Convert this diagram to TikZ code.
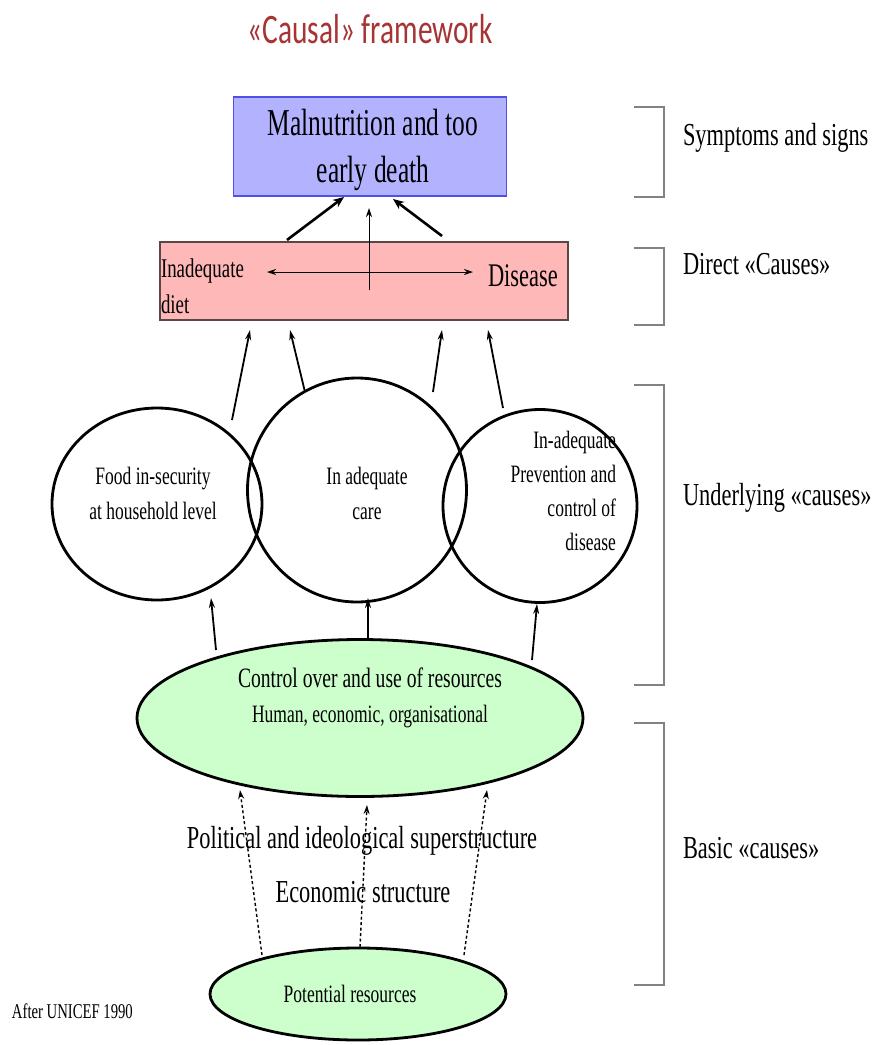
\documentclass[tikz,border=0pt]{standalone}
\usepackage{fontspec}
\setmainfont{Liberation Serif}[FakeStretch=0.7]
\newfontfamily\titlefont{Carlito}[FakeStretch=0.7]
\usetikzlibrary{shapes.geometric,arrows.meta}
\definecolor{titlered}{RGB}{166,52,52}
\definecolor{bluefill}{RGB}{178,178,255}
\definecolor{blueline}{RGB}{80,80,230}
\definecolor{pinkfill}{RGB}{255,184,184}
\definecolor{pinkline}{RGB}{90,70,70}
\definecolor{greenfill}{RGB}{204,255,204}
\definecolor{brackgray}{RGB}{130,130,130}
\newcommand\fsz[2]{\fontsize{#1}{#2}\selectfont}
\tikzset{
  txt/.style={inner sep=0pt, outer sep=0pt},
  ell/.style={draw, ellipse, line width=2.8pt, inner sep=0pt},
  thin arrow/.style={line width=1.8pt, -{Stealth[length=10pt,width=6pt]}},
  hair arrow/.style={line width=1pt, -{Stealth[length=9pt,width=6pt]}},
  bold arrow/.style={line width=2.6pt, -{Stealth[length=11pt,width=9pt]}},
  dash arrow/.style={line width=1.4pt, dash pattern=on 3pt off 2.5pt, -{Stealth[length=9pt,width=6pt]}},
  brack/.style={draw=brackgray, line width=1.8pt},
  blabel/.style={txt, anchor=base west, font=\fsz{32}{36}},
}
\begin{document}
\begin{tikzpicture}[x=1pt,y=-1pt]
\useasboundingbox (0,0) rectangle (878,1045);
% title
\node[txt, anchor=base, text=titlered, font=\titlefont\fsz{42}{46}] (title) at (370,43) {«Causal» framework};
% top box
\node[draw=blueline, fill=bluefill, line width=1.4pt, minimum width=273pt, minimum height=99pt, inner sep=0pt] (mal) at (370,146.5) {};
\node[txt, anchor=base, font=\fsz{38}{47}\addfontfeatures{FakeStretch=0.67}] (mal1) at (373,135) {Malnutrition and too};
\node[txt, anchor=base, font=\fsz{38}{47}\addfontfeatures{FakeStretch=0.67}] (mal2) at (373,182) {early death};
% pink box
\node[draw=pinkline, fill=pinkfill, line width=1.4pt, minimum width=408pt, minimum height=78pt, inner sep=0pt] (direct) at (364,281) {};
\node[txt, anchor=base west, font=\fsz{27}{36}] (inad1) at (161,277) {Inadequate};
\node[txt, anchor=base west, font=\fsz{27}{36}] (inad2) at (161,313) {diet};
\node[txt, anchor=base west, font=\fsz{33}{36}\addfontfeatures{FakeStretch=0.68}] (dis) at (488,286) {Disease};
\coordinate (dl) at (267,272);
\coordinate (dr) at (473,272);
\draw[line width=1pt, {Stealth[length=9pt,width=6pt]}-{Stealth[length=9pt,width=6pt]}] (dl) -- (dr);
\coordinate (vb) at (369,290);
\coordinate (vt) at (369,208);
\draw[hair arrow] (vb) -- (vt);
\coordinate (b1s) at (287,240); \coordinate (b1e) at (344,197);
\coordinate (b2s) at (442,236); \coordinate (b2e) at (393,199);
\draw[bold arrow] (b1s) -- (b1e);
\draw[bold arrow] (b2s) -- (b2e);
% underlying ellipses
\node[ell, minimum width=210pt, minimum height=192pt] (food) at (157,504) {};
\node[ell, minimum width=219pt, minimum height=224pt] (care) at (357,490) {};
\node[ell, minimum width=194pt, minimum height=193pt] (prev) at (540,506) {};
\node[txt, anchor=base, font=\fsz{25}{34}] (food1) at (153,484) {Food in-security};
\node[txt, anchor=base, font=\fsz{25}{34}] (food2) at (153,519) {at household level};
\node[txt, anchor=base, font=\fsz{25}{34}] (care1) at (367,484) {In adequate};
\node[txt, anchor=base, font=\fsz{25}{34}] (care2) at (367,519) {care};
\node[txt, anchor=base east, font=\fsz{25}{34}] (prev1) at (616,448) {In-adequate};
\node[txt, anchor=base east, font=\fsz{25}{34}] (prev2) at (616,482) {Prevention and};
\node[txt, anchor=base east, font=\fsz{25}{34}] (prev3) at (616,516) {control of};
\node[txt, anchor=base east, font=\fsz{25}{34}] (prev4) at (616,550) {disease};
% arrows ellipses -> direct
\coordinate (u1s) at (232,420); \coordinate (u1e) at (250,330);
\coordinate (u2s) at (305,392); \coordinate (u2e) at (290,330);
\coordinate (u3s) at (433,392); \coordinate (u3e) at (442,330);
\coordinate (u4s) at (503,408); \coordinate (u4e) at (488,330);
\draw[thin arrow] (u1s) -- (u1e);
\draw[thin arrow] (u2s) -- (u2e);
\draw[thin arrow] (u3s) -- (u3e);
\draw[thin arrow] (u4s) -- (u4e);
% control ellipse
\node[ell, fill=greenfill, minimum width=446pt, minimum height=157pt] (ctrl) at (360,718) {};
\node[txt, anchor=base, font=\fsz{28}{34}] (ctrl1) at (370,687) {Control over and use of resources};
\node[txt, anchor=base, font=\fsz{25}{34}] (ctrl2) at (370,722) {Human, economic, organisational};
\coordinate (c1s) at (216,650); \coordinate (c1e) at (211,598);
\coordinate (c2s) at (368,638); \coordinate (c2e) at (368,598);
\coordinate (c3s) at (532,660); \coordinate (c3e) at (537,604);
\draw[thin arrow] (c1s) -- (c1e);
\draw[thin arrow] (c2s) -- (c2e);
\draw[thin arrow] (c3s) -- (c3e);
% basic
\node[txt, anchor=base, font=\fsz{32}{36}] (pol) at (362,848) {Political and ideological superstructure};
\node[txt, anchor=base, font=\fsz{32}{36}] (eco) at (363,902) {Economic structure};
\node[ell, fill=greenfill, minimum width=296pt, minimum height=92pt] (pot) at (358,994) {};
\node[txt, anchor=base, font=\fsz{25}{30}] (pot1) at (350,1002) {Potential resources};
\coordinate (p1s) at (262,955); \coordinate (p1e) at (240,790);
\coordinate (p2s) at (360,947); \coordinate (p2e) at (367,805);
\coordinate (p3s) at (464,955); \coordinate (p3e) at (487,790);
\draw[dash arrow] (p1s) -- (p1e);
\draw[dash arrow] (p2s) -- (p2e);
\draw[dash arrow] (p3s) -- (p3e);
\node[txt, anchor=base west, font=\fsz{21}{24}] (after) at (12,1018) {After UNICEF 1990};
% brackets
\draw[brack] (634,107) -- (664,107) -- (664,197) -- (634,197);
\draw[brack] (634,248) -- (664,248) -- (664,325) -- (634,325);
\draw[brack] (634,385) -- (664,385) -- (664,685) -- (634,685);
\draw[brack] (634,723) -- (664,723) -- (664,985) -- (634,985);
\node[blabel] (l1) at (683,145) {Symptoms and signs};
\node[blabel] (l2) at (683,274) {Direct «Causes»};
\node[blabel] (l3) at (683,505) {Underlying «causes»};
\node[blabel] (l4) at (683,858) {Basic «causes»};
\end{tikzpicture}
\end{document}
